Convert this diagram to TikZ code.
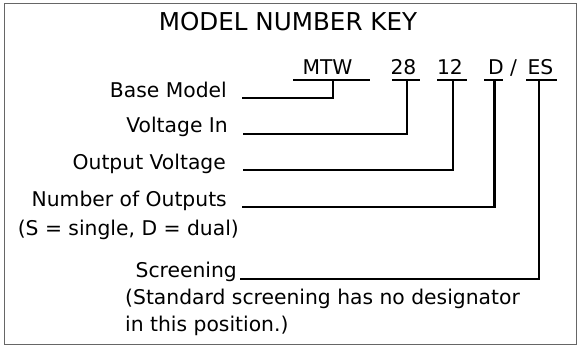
\documentclass[tikz,border=0pt]{standalone}
\usepackage{fontspec}
\setmainfont{DejaVu Sans}
\definecolor{framegray}{HTML}{666666}
\begin{document}
\begin{tikzpicture}[x=1pt,y=-1pt,
  lbl/.style={inner sep=0pt,font=\fontsize{20.3}{24}\selectfont},
  conn/.style={line width=2.6pt,line cap=butt},
  frame/.style={draw=framegray,line width=1.4pt}]
\useasboundingbox (0,0) rectangle (579,347);
\draw[frame] (4.5,3.5) rectangle (576.5,344.5);
\node[inner sep=0pt,font=\fontsize{24.6}{28}\selectfont,anchor=base] (title) at (288,31) {MODEL NUMBER KEY};
% codes
\node[lbl,anchor=base] (cMTW) at (327.5,75) {MTW};
\node[lbl,anchor=base] (c28) at (403.5,75) {28};
\node[lbl,anchor=base] (c12) at (450,75) {12};
\node[lbl,anchor=base] (cD) at (496,75) {D};
\node[lbl,anchor=base] (cSl) at (513.5,75) {/};
\node[lbl,anchor=base] (cES) at (540.5,75) {ES};
% labels
\node[lbl,anchor=base east] (lBM) at (227,98) {Base Model};
\node[lbl,anchor=base east] (lVI) at (228,133) {Voltage In};
\node[lbl,anchor=base east] (lOV) at (226,170) {Output Voltage};
\node[lbl,anchor=base east] (lNO) at (227,207) {Number of Outputs};
\node[lbl,anchor=base east] (lNO2) at (239,236) {(S = single, D = dual)};
\node[lbl,anchor=base east] (lSC) at (237,278) {Screening};
\node[lbl,anchor=base west] (lSC2) at (125,305) {(Standard screening has no designator};
\node[lbl,anchor=base west] (lSC3) at (125,332) {in this position.)};
% underline ends
\coordinate (uMTWa) at (293,80); \coordinate (uMTWb) at (370,80);
\coordinate (u28a) at (392,80); \coordinate (u28b) at (420,80);
\coordinate (u12a) at (437,80); \coordinate (u12b) at (467,80);
\coordinate (uDa) at (484,80); \coordinate (uDb) at (503,80);
\coordinate (uESa) at (526,80); \coordinate (uESb) at (557,80);
% stem tops
\coordinate (tMTW) at (333,80);
\coordinate (t28) at (407,80);
\coordinate (t12) at (453,80);
\coordinate (tD) at (494.5,80);
\coordinate (tES) at (539,80);
% leader starts
\coordinate (sBM) at (242,98);
\coordinate (sVI) at (243,134);
\coordinate (sOV) at (243,170);
\coordinate (sNO) at (242,207);
\coordinate (sSC) at (240,279);
\foreach \a/\b in {uMTWa/uMTWb,u28a/u28b,u12a/u12b,uDa/uDb,uESa/uESb}
  \draw[conn] (\a) -- (\b);
\draw[conn,line join=miter] (sBM) -| (tMTW);
\draw[conn,line join=miter] (sVI) -| (t28);
\draw[conn,line join=miter] (sOV) -| (t12);
\draw[conn,line join=miter] (sNO) -| (tD);
\draw[conn,line join=miter] (sSC) -| (tES);
\end{tikzpicture}
\end{document}
